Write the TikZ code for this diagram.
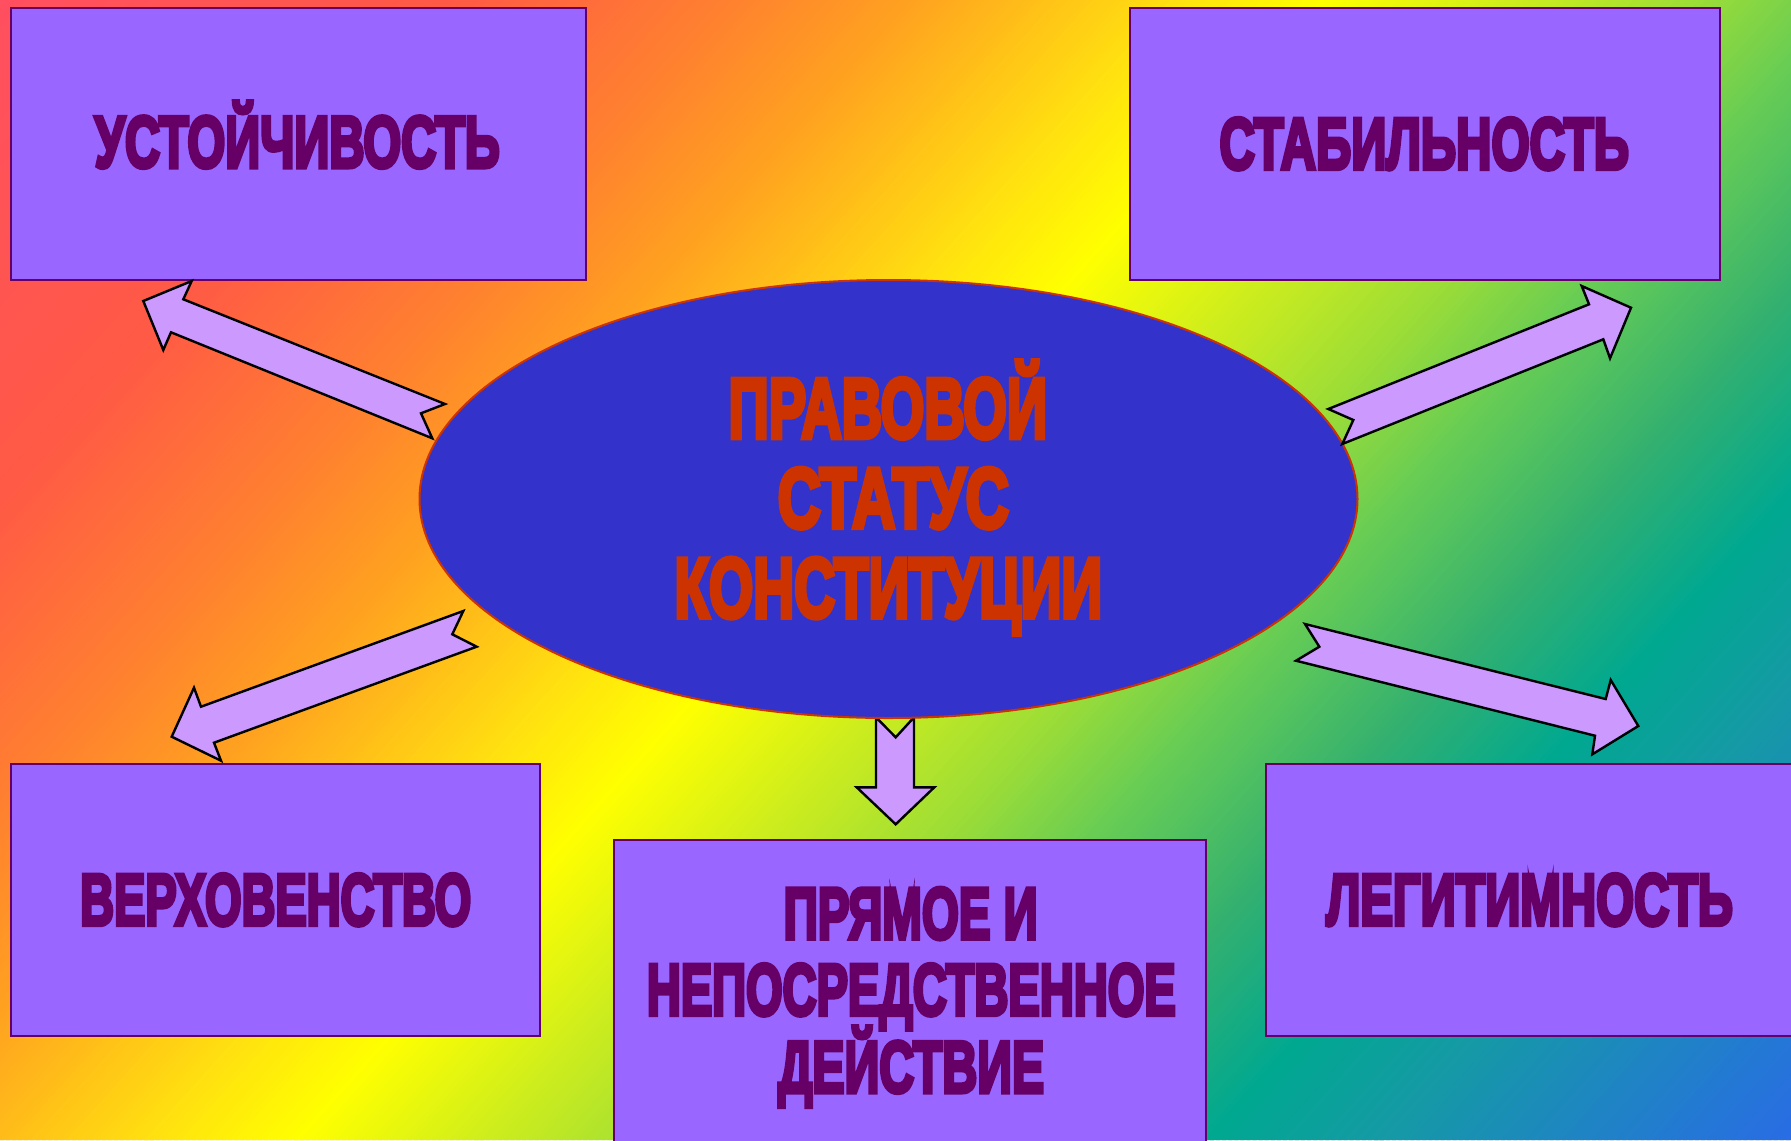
\documentclass[tikz,border=0pt]{standalone}
\usepackage{fontspec}
\usepackage{graphicx}
\usetikzlibrary{shapes.geometric}
\newfontfamily\heavy{Liberation Sans}[FakeBold=6]
\definecolor{boxfill}{HTML}{9966FF}
\definecolor{boxline}{HTML}{660066}
\definecolor{txtp}{HTML}{660066}
\definecolor{ellfill}{HTML}{3333CC}
\definecolor{elltxt}{HTML}{CC3300}
\definecolor{arrfill}{HTML}{CC99FF}
\definecolor{g0}{HTML}{FF4F60}
\definecolor{g1}{HTML}{FF5A45}
\definecolor{g2}{HTML}{FF8030}
\definecolor{g3}{HTML}{FFA020}
\definecolor{g4}{HTML}{FFE010}
\definecolor{g5}{HTML}{FFFF00}
\definecolor{g6}{HTML}{D0EE1C}
\definecolor{g7}{HTML}{9ADC38}
\definecolor{g8}{HTML}{66CC55}
\definecolor{g9}{HTML}{33B070}
\definecolor{g10}{HTML}{00A890}
\definecolor{g11}{HTML}{159AA5}
\definecolor{g12}{HTML}{2A6AE8}
\newcommand\fitw[2]{\resizebox{#1}{\height}{#2}}
\tikzset{
  box/.style={draw=boxline, fill=boxfill, line width=1pt, inner sep=0pt, rectangle},
  ell/.style={draw=elltxt, fill=ellfill, line width=1pt, inner sep=0pt, ellipse},
  blockarrow/.style={draw=black, fill=arrfill, line width=1.2pt, line join=miter},
  btxt/.style={text=txtp, anchor=base, inner sep=0pt, font=\heavy\bfseries\fontsize{36.5pt}{40pt}\selectfont},
  etxt/.style={text=elltxt, anchor=base, inner sep=0pt, font=\heavy\bfseries\fontsize{42.5pt}{46pt}\selectfont}
}
\begin{document}
\begin{tikzpicture}[x=0.5pt,y=-0.5pt]
\useasboundingbox (0,0) rectangle (1791,1140);
\clip (0,0) rectangle (1791,1140);
% background gradient
\fill[g0] (0,0) rectangle (1791,1140);
\foreach \sa/\sb/\ca/\cb in {0/450/g0/g1, 450/720/g1/g2, 720/900/g2/g3, 900/1170/g3/g4, 1170/1320/g4/g5, 1320/1500/g5/g6, 1500/1700/g6/g7, 1700/1850/g7/g8, 1850/2050/g8/g9, 2050/2230/g9/g10, 2230/2400/g10/g11, 2400/2830/g11/g12}{
  \pgfmathtruncatemacro\nn{(\sb-\sa)/6}
  \pgfmathsetmacro\dd{(\sb-\sa)/\nn}
  \pgfmathsetmacro\dp{100/\nn}
  \foreach \ii in {0,...,\nn}{
    \pgfmathsetmacro\ss{\sa+\dd*\ii}
    \pgfmathtruncatemacro\pp{\dp*\ii}
    \colorlet{cur}{\cb!\pp!\ca}
    \fill[cur] (\ss,0) -- ++(10,0) -- ++(-1026,1140) -- ++(-10,0) -- cycle;
  }
}
% boxes
\node[box, minimum width=287.5pt, minimum height=136pt] (tl) at (298.5,144) {};
\node[box, minimum width=295pt, minimum height=136pt] (tr) at (1425,144) {};
\node[box, minimum width=264.5pt, minimum height=136pt] (bl) at (275.5,900) {};
\node[box, minimum width=296pt, minimum height=160pt] (bm) at (910,1000) {};
\node[box, minimum width=267pt, minimum height=136pt] (br) at (1533,900) {};
% down arrow (behind ellipse)
\draw[blockarrow] (876,717.3) -- (895.7,737.3) -- (914,717.3) -- (914,787.3) -- (934.3,787.3) -- (895.7,824.3) -- (856.7,787.3) -- (876,787.3) -- cycle;
% ellipse
\node[ell, minimum width=469pt, minimum height=219pt] (el) at (888.5,499) {};
% arrows
\draw[blockarrow] (143.3,301) -- (191.7,281) -- (183.3,299.3) -- (445,404) -- (421,413.3) -- (432.3,438.3) -- (171,332.3) -- (163.3,350) -- cycle;
\draw[blockarrow] (1328.3,409) -- (1589,304.3) -- (1581.7,286) -- (1631,307.7) -- (1610,358.3) -- (1603.3,339.3) -- (1342.3,444) -- (1353.3,420) -- cycle;
\draw[blockarrow] (463.3,611) -- (452.3,634.3) -- (476.7,646.7) -- (214,742.7) -- (221,760.7) -- (171.7,736.7) -- (194,687.7) -- (201,706.7) -- cycle;
\draw[blockarrow] (1305,624) -- (1605.7,699) -- (1610.7,680) -- (1638.3,726) -- (1592.3,754.3) -- (1595,735.7) -- (1296,660.7) -- (1319.3,646.7) -- cycle;
% texts
\node[btxt] (t1) at (297.2,167.3) {\fitw{202.5pt}{УСТОЙЧИВОСТЬ}};
\node[btxt] (t2) at (1424.2,169) {\fitw{204.7pt}{СТАБИЛЬНОСТЬ}};
\node[btxt] (t3) at (275.7,925) {\fitw{195.5pt}{ВЕРХОВЕНСТВО}};
\node[btxt] (t4) at (1529.5,925) {\fitw{203.3pt}{ЛЕГИТИМНОСТЬ}};
\node[btxt] (t5a) at (910.7,938.7) {\fitw{127pt}{ПРЯМОЕ И}};
\node[btxt] (t5b) at (911.3,1015) {\fitw{264.5pt}{НЕПОСРЕДСТВЕННОЕ}};
\node[btxt] (t5c) at (911.1,1092.3) {\fitw{133pt}{ДЕЙСТВИЕ}};
\node[etxt] (e1) at (887.8,437.7) {\fitw{159.3pt}{ПРАВОВОЙ}};
\node[etxt] (e2) at (893.3,527.5) {\fitw{115.5pt}{СТАТУС}};
\node[etxt] (e3) at (888.3,617.3) {\fitw{213.8pt}{КОНСТИТУЦИИ}};
\end{tikzpicture}
\end{document}
